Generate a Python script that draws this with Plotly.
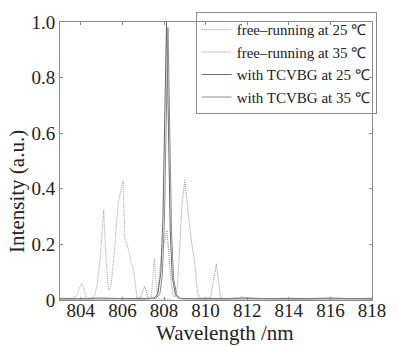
import plotly.graph_objects as go

# ---- data ----
wl_free25 = [803.0, 803.3, 803.6, 803.8, 803.95, 804.05, 804.15, 804.26, 804.45, 804.65, 804.8, 804.95, 805.1,
             805.2, 805.33, 805.45, 805.6, 805.8, 805.95, 806.03, 806.12, 806.3, 806.4, 806.55, 806.7, 806.9,
             807.1, 807.3, 807.39, 807.47, 807.54, 807.61, 807.68, 807.8, 808.0, 808.3]
i_free25 = [0.005, 0.004, 0.006, 0.015, 0.045, 0.06, 0.04, 0.006, 0.004, 0.01, 0.06, 0.165, 0.325,
            0.165, 0.035, 0.05, 0.165, 0.35, 0.40, 0.43, 0.22, 0.18, 0.14, 0.105, 0.007, 0.004,
            0.005, 0.004, 0.01, 0.08, 0.15, 0.07, 0.01, 0.004, 0.003, 0.003]

wl_free35 = [806.6, 806.87, 806.97, 807.07, 807.15, 807.23, 807.4, 807.6, 807.68, 807.8, 807.92, 808.02,
             808.14, 808.25, 808.35, 808.44, 808.54, 808.65, 808.73, 808.87, 809.0, 809.1, 809.23, 809.34,
             809.47, 809.55, 809.63, 809.77, 810.0, 810.24, 810.38, 810.52, 810.62, 810.71, 810.9, 811.3,
             811.6, 811.75, 811.9, 812.3, 813.0, 814.0, 815.0, 816.0, 817.0, 818.0]
i_free35 = [0.004, 0.01, 0.03, 0.05, 0.03, 0.01, 0.006, 0.01, 0.02, 0.1, 0.19, 0.21,
            0.25, 0.15, 0.06, 0.02, 0.01, 0.05, 0.15, 0.35, 0.43, 0.35, 0.27, 0.2,
            0.14, 0.07, 0.02, 0.005, 0.004, 0.01, 0.07, 0.13, 0.07, 0.01, 0.004, 0.005,
            0.008, 0.012, 0.007, 0.004, 0.005, 0.004, 0.005, 0.004, 0.005, 0.004]

wl_tc25 = [803.0, 804.0, 805.0, 806.0, 807.0, 807.5, 807.7, 807.85, 807.95, 808.03, 808.08, 808.12,
           808.16, 808.22, 808.3, 808.4, 808.55, 808.7, 809.0, 810.0, 811.0, 812.0, 813.0, 814.0,
           815.0, 816.0, 817.0, 818.0]
i_tc25 = [0.006, 0.005, 0.007, 0.005, 0.006, 0.006, 0.02, 0.1, 0.3, 0.6, 0.85, 1.0,
          0.85, 0.55, 0.25, 0.08, 0.02, 0.006, 0.005, 0.006, 0.005, 0.007, 0.005, 0.006,
          0.005, 0.007, 0.005, 0.006]

wl_tc35 = [803.0, 804.0, 805.0, 806.0, 807.0, 807.6, 807.8, 807.92, 808.02, 808.1, 808.15, 808.19,
           808.23, 808.28, 808.36, 808.46, 808.6, 808.75, 809.0, 810.0, 811.0, 812.0, 813.0, 814.0,
           815.0, 816.0, 817.0, 818.0]
i_tc35 = [0.003, 0.004, 0.003, 0.004, 0.003, 0.006, 0.02, 0.09, 0.28, 0.6, 0.85, 0.98,
          0.82, 0.55, 0.25, 0.08, 0.02, 0.005, 0.004, 0.003, 0.004, 0.003, 0.004, 0.003,
          0.004, 0.003, 0.004, 0.003]

names = ["free\u2013running at 25 \u2103", "free\u2013running at 35 \u2103",
         "with TCVBG at 25 \u2103", "with TCVBG at 35 \u2103"]

x_ticks = [804, 806, 808, 810, 812, 814, 816, 818]
y_ticks = [0, 0.2, 0.4, 0.6, 0.8, 1.0]
y_ticklabels = ["0", "0.2", "0.4", "0.6", "0.8", "1.0"]

FONT = "Liberation Serif"

fig = go.Figure()
fig.add_trace(go.Scatter(x=wl_free25, y=i_free25, mode="lines", name=names[0],
                         line=dict(color="#a0a0a0", width=1, dash="1px,1px")))
fig.add_trace(go.Scatter(x=wl_free35, y=i_free35, mode="lines", name=names[1],
                         line=dict(color="#909090", width=1, dash="1px,1px")))
fig.add_trace(go.Scatter(x=wl_tc25, y=i_tc25, mode="lines", name=names[2],
                         line=dict(color="#6a6a6a", width=1)))
fig.add_trace(go.Scatter(x=wl_tc35, y=i_tc35, mode="lines", name=names[3],
                         line=dict(color="#8c8c8c", width=1)))

axis_common = dict(showgrid=False, zeroline=False, showline=True, linecolor="#8a8a8a",
                   linewidth=1, mirror="ticks", ticks="inside", ticklen=3, tickcolor="#8a8a8a",
                   tickfont=dict(family=FONT, size=19, color="#222"))

fig.update_xaxes(range=[803, 818], tickvals=x_ticks, ticktext=[str(v) for v in x_ticks],
                 ticklabelstandoff=-7, **axis_common)
fig.update_yaxes(range=[0, 1.0], tickvals=y_ticks, ticktext=y_ticklabels,
                 **axis_common)

fig.update_layout(
    width=398, height=347,
    margin=dict(l=60, r=21, t=14, b=47),
    paper_bgcolor="white", plot_bgcolor="white",
    showlegend=True,
    legend=dict(x=1.015, y=1.035, xanchor="right", yanchor="top", bgcolor="rgba(255,255,255,0)",
                bordercolor="#8a8a8a", borderwidth=1, tracegroupgap=0,
                font=dict(family=FONT, size=15, color="#222"), itemwidth=30),
    annotations=[
        dict(text="Wavelength /nm", xref="paper", yref="paper", x=0.53, y=-0.12,
             xanchor="center", yanchor="middle", showarrow=False,
             font=dict(family=FONT, size=21, color="#222")),
        dict(text="Intensity (a.u.)", xref="paper", yref="paper", x=-0.14, y=0.39,
             xanchor="center", yanchor="middle", textangle=-90, showarrow=False,
             font=dict(family=FONT, size=21, color="#222")),
    ],
)

fig.write_html("out.html", config={"displayModeBar": False},
               post_script="document.body.style.margin='0';")
